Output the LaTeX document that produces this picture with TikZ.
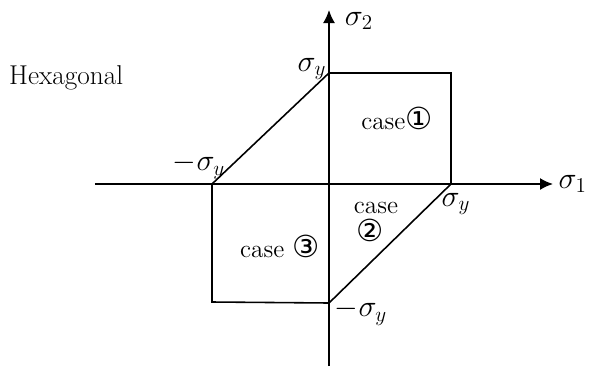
\documentclass[tikz,border=0pt]{standalone}
\usepackage{amsmath,amssymb}
\usepackage{fontspec}
\newfontfamily\circfont{DejaVu Sans}
\usepackage{tikz}
\usetikzlibrary{arrows.meta, positioning}

\begin{document}
\begin{tikzpicture}[
    axis/.style={line width=0.9pt, -{Latex[length=2.6mm, width=2.4mm]}},
    yieldline/.style={line width=0.9pt},
    lbl/.style={font=\LARGE, inner sep=1pt},
    casetxt/.style={font=\Large, align=center}
]
\useasboundingbox (-6.58,-3.64) rectangle (5.22,3.68);

% axes
\coordinate (o) at (0,0);
\coordinate (xstart) at (-4.68,0);
\coordinate (xend) at (4.48,0);
\coordinate (ystart) at (0,-3.64);
\coordinate (yend) at (0,3.48);
\draw[axis] (xstart) -- (xend);
\draw[axis] (ystart) -- (yend);
\node[lbl, right=2pt of xend] (s1) {$\sigma_1$};
\node[lbl] (s2) at (0.6,3.26) {$\sigma_2$};

% yield points on the axes
\coordinate (top) at (0,2.22);
\coordinate (right) at (2.44,0);
\coordinate (left) at (-2.34,0);
\coordinate (bottom) at (0,-2.38);
\coordinate (tr) at (2.44,2.22);
\coordinate (bl) at (-2.34,-2.36);

% hexagonal yield surface
\draw[yieldline] (left) -- (top) -- (tr) -- (right) -- (bottom);
\draw[yieldline] (left) -- (bl) -- (bottom);

\node[lbl] (ltop) at (-0.34,2.3) {$\sigma_y$};
\node[lbl] (lleft) at (-2.6,0.36) {$-\sigma_y$};
\node[lbl] (lright) at (2.54,-0.4) {$\sigma_y$};
\node[lbl] (lbottom) at (0.64,-2.56) {$-\sigma_y$};

% regions
\node[casetxt] (c1) at (1.36,1.32) {case{\LARGE\circfont ①}};
\node[casetxt] (c2) at (0.94,-0.48) {case};
\node[casetxt] (c2n) at (0.82,-0.92) {\LARGE\circfont ②};
\node[casetxt] (c3) at (-0.98,-1.24) {case {\LARGE\circfont ③}};

\node[font=\fontsize{15.5pt}{18pt}\selectfont, anchor=west] (title) at (-6.52,2.12) {Hexagonal};
\end{tikzpicture}
\end{document}
